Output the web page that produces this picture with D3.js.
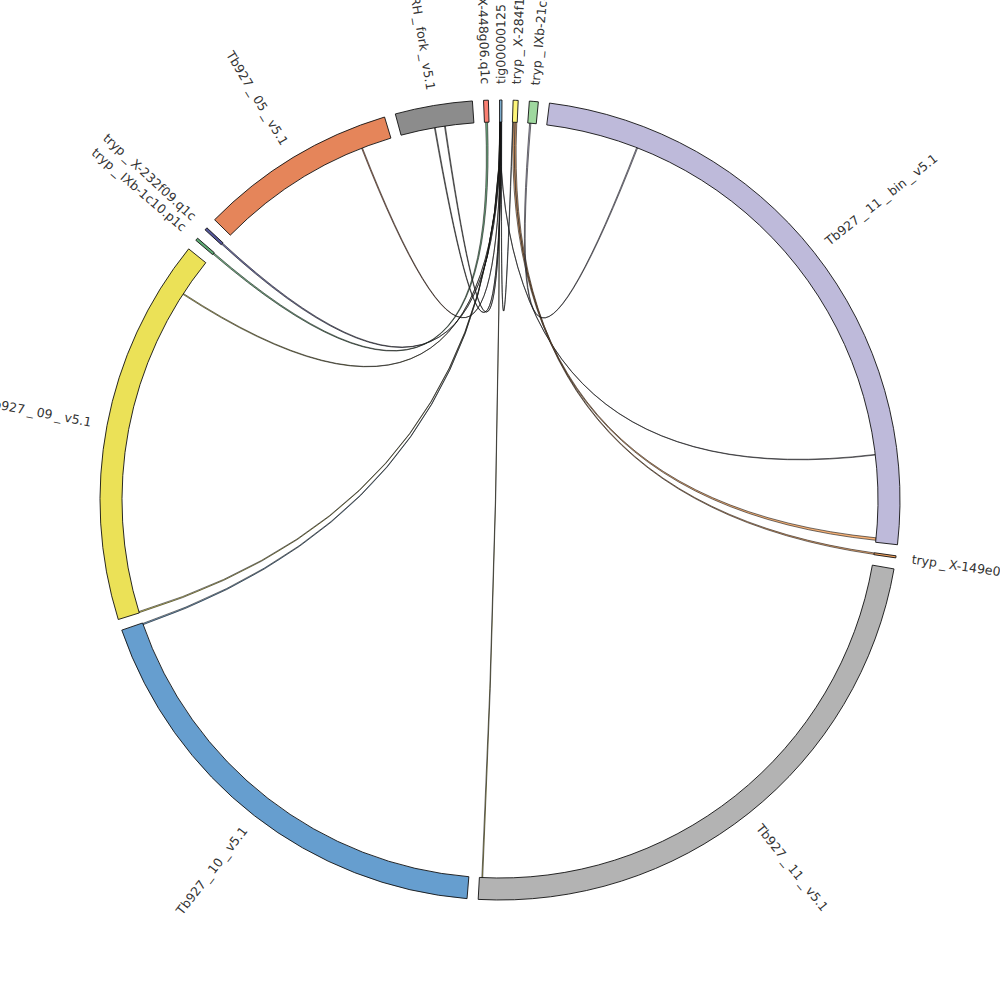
<!DOCTYPE html>
<html><head><meta charset="utf-8">
<script src="https://cdn.jsdelivr.net/npm/d3@7"></script>
<style>body{margin:0;background:#fff}</style>
</head><body>
<svg id="chart" width="1000" height="1000"></svg>
<script>
// ---- data ----
const groupNames = [
  "tryp_X-448g06.q1c", "tig00000125", "tryp_X-284f11.q1c", "tryp_IXb-21c4.p1c",
  "Tb927_11_bin_v5.1", "tryp_X-149e08.q1c", "Tb927_11_v5.1", "Tb927_10_v5.1",
  "Tb927_09_v5.1", "tryp_IXb-1c10.p1c", "tryp_X-232f09.q1c", "Tb927_05_v5.1",
  "Tb927_RH_fork_v5.1"
];
const groupLengths = [44, 22, 46, 82, 5655, 19, 5268, 4197, 3563, 25, 25, 1820, 710]; // kb
const groupColors = [
  "#fb8072", "#80b1d3", "#fdf57a", "#9fd89f",
  "#bebada", "#f4a460", "#b3b3b3", "#669ecf",
  "#ebe157", "#5daa74", "#55579a", "#e5855a",
  "#8c8c8c"
];
// links: [group A, startKb, endKb, group B, startKb, endKb]
const links = [
  ["tig00000125", 0, 2, "Tb927_11_bin_v5.1", 4810, 4816],
  ["tryp_X-284f11.q1c", 8, 24, "Tb927_11_bin_v5.1", 5612, 5636],
  ["tryp_X-284f11.q1c", 28, 42, "tryp_X-149e08.q1c", 2, 16],
  ["tryp_IXb-21c4.p1c", 18, 30, "Tb927_11_bin_v5.1", 892, 902],
  ["tig00000125", 2, 4, "Tb927_11_v5.1", 5236, 5244],
  ["tig00000125", 4, 6, "Tb927_10_v5.1", 4180, 4192],
  ["tig00000125", 6, 8, "Tb927_09_v5.1", 3, 14],
  ["tig00000125", 8, 10, "Tb927_09_v5.1", 3188, 3197],
  ["tig00000125", 10, 12, "tryp_X-232f09.q1c", 6, 20],
  ["tryp_X-448g06.q1c", 12, 30, "tryp_IXb-1c10.p1c", 6, 20],
  ["tig00000125", 12, 14, "Tb927_05_v5.1", 1522, 1531],
  ["tig00000125", 14, 16, "Tb927_RH_fork_v5.1", 328, 336],
  ["tig00000125", 16, 18, "Tb927_RH_fork_v5.1", 426, 434],
  ["tig00000125", 18, 21, "tryp_X-284f11.q1c", 2, 6]
];
const linkColorGroup = [
  "Tb927_11_bin_v5.1", "tryp_X-149e08.q1c", "tryp_X-149e08.q1c", "Tb927_11_bin_v5.1",
  "Tb927_09_v5.1", "Tb927_10_v5.1", "Tb927_09_v5.1", "Tb927_09_v5.1",
  "tryp_X-232f09.q1c", "tryp_IXb-1c10.p1c", "Tb927_05_v5.1", "Tb927_RH_fork_v5.1",
  "Tb927_RH_fork_v5.1", "tig00000125"
];

// ---- layout ----
const cx = 500, cy = 500;
const outerR = 400, innerR = 378, labelR = 416;
const rad = Math.PI / 180;
const gap = 1.6 * rad;
const startAngle = -2.36 * rad;
const total = d3.sum(groupLengths);
const k = (2 * Math.PI - gap * groupNames.length) / total;

let a = startAngle;
const groups = groupNames.map((name, i) => {
  const g = { name, index: i, startAngle: a, endAngle: a + groupLengths[i] * k, color: groupColors[i] };
  g.scale = d3.scaleLinear().domain([0, groupLengths[i]]).range([g.startAngle, g.endAngle]);
  a = g.endAngle + gap;
  return g;
});
const byName = new Map(groups.map(g => [g.name, g]));
const colorOf = d3.scaleOrdinal().domain(groupNames).range(groupColors);

const svg = d3.select("#chart");
const root = svg.append("g").attr("transform", `translate(${cx},${cy})`);

// ribbons
const ribbon = d3.ribbon().radius(innerR);
root.append("g").selectAll("path")
  .data(links)
  .join("path")
  .attr("d", l => {
    const s = byName.get(l[0]), t = byName.get(l[3]);
    return ribbon({
      source: { startAngle: s.scale(l[1]), endAngle: s.scale(l[2]) },
      target: { startAngle: t.scale(l[4]), endAngle: t.scale(l[5]) }
    });
  })
  .attr("fill", (l, i) => colorOf(linkColorGroup[i]))
  .attr("fill-opacity", 0.85)
  .attr("stroke", "#111")
  .attr("stroke-width", 0.6);

// group arcs
const arc = d3.arc().innerRadius(innerR).outerRadius(outerR);
root.append("g").selectAll("path")
  .data(groups)
  .join("path")
  .attr("d", arc)
  .attr("fill", d => d.color)
  .attr("stroke", "#111")
  .attr("stroke-width", 0.9);

// labels
root.append("g").selectAll("text")
  .data(groups)
  .join("text")
  .each(function(d) {
    let deg = ((d.startAngle + d.endAngle) / 2) / rad;
    deg = ((deg % 360) + 360) % 360;
    const left = deg > 180;
    const t = d3.select(this)
      .attr("transform", `rotate(${deg - 90}) translate(${labelR},0)${left ? " rotate(180)" : ""}`)
      .attr("text-anchor", left ? "end" : "start")
      .attr("dy", "0.35em");
    const parts = d.name.split("_");
    parts.forEach((p, j) => {
      if (j > 0) t.append("tspan").attr("dx", 3).text("_");
      t.append("tspan").attr("dx", j > 0 ? 3 : 0).text(p);
    });
  })
  .attr("font-family", "DejaVu Sans, sans-serif")
  .attr("font-size", 12.5)
  .attr("fill", "#333");
</script>
</body></html>
